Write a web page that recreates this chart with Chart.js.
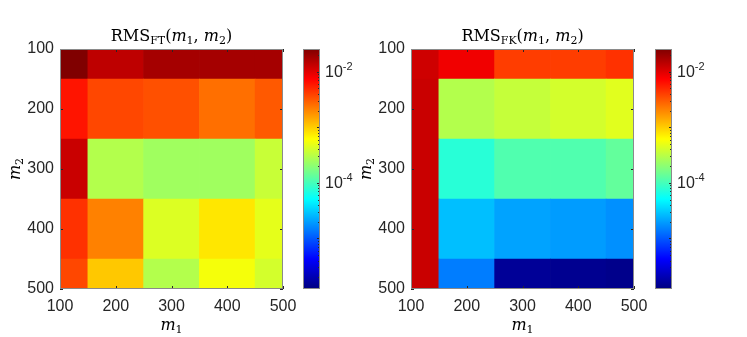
<!DOCTYPE html>
<html lang="en">
<head>
<meta charset="UTF-8">
<title>RMS heatmaps</title>
<script src="https://cdn.jsdelivr.net/npm/chart.js"></script>
<style>
  body { margin: 0; background: #fff; }
  .panel { position: absolute; top: 0; height: 337px; }
</style>
</head>
<body>
<div class="panel" style="left:0;width:300px"><canvas id="ftChart"></canvas></div>
<div class="panel" style="left:300px;width:60px"><canvas id="ftBar"></canvas></div>
<div class="panel" style="left:351px;width:300px"><canvas id="fkChart"></canvas></div>
<div class="panel" style="left:652px;width:60px"><canvas id="fkBar"></canvas></div>

<script>
// grid values
const m1 = [100, 200, 300, 400, 500];
const m2 = [100, 200, 300, 400, 500];
const axisTicks = [100, 200, 300, 400, 500];

// rows follow m2 (top to bottom), columns follow m1
const rmsFT = [
  [2.57e-2, 1.40e-2, 1.78e-2, 1.78e-2, 1.78e-2],
  [6.1e-3, 3.7e-3, 3.4e-3, 2.5e-3, 3.1e-3],
  [1.26e-2, 2.95e-4, 2.45e-4, 2.45e-4, 3.6e-4],
  [4.6e-3, 2.1e-3, 4.4e-4, 7.8e-4, 4.8e-4],
  [3.7e-3, 1.05e-3, 2.95e-4, 5.6e-4, 4.0e-4]
];
const rmsFK = [
  [1.2e-2, 8.5e-3, 4.1e-3, 4.1e-3, 4.6e-3],
  [1.26e-2, 2.95e-4, 3.5e-4, 4.0e-4, 4.6e-4],
  [1.26e-2, 7.6e-5, 1.12e-4, 1.12e-4, 1.35e-4],
  [1.26e-2, 2.75e-5, 2.1e-5, 1.95e-5, 1.74e-5],
  [1.26e-2, 1.45e-5, 1.55e-6, 1.45e-6, 1.38e-6]
];

// colour axis (log)
const colorLimits = [1.23e-6, 2.57e-2];
const colorbarTicks = [1e-4, 1e-2];

const sans = '"Liberation Sans", Arial, Helvetica, sans-serif';
const serif = '"DejaVu Serif", "Liberation Serif", serif';
const axisColor = '#262626';

function jet(t) {
  t = Math.min(1, Math.max(0, t));
  const c = v => Math.round(255 * Math.min(1, Math.max(0, v)));
  const r = Math.min(4 * t - 1.5, -4 * t + 4.5);
  const g = Math.min(4 * t - 0.5, -4 * t + 3.5);
  const b = Math.min(4 * t + 0.5, -4 * t + 2.5);
  return 'rgb(' + c(r) + ',' + c(g) + ',' + c(b) + ')';
}

function colorFor(v) {
  const lo = Math.log10(colorLimits[0]), hi = Math.log10(colorLimits[1]);
  return jet((Math.log10(v) - lo) / (hi - lo));
}

// draws a row of text pieces centred on x, baseline y
function drawRich(ctx, parts, x, y) {
  let w = 0;
  parts.forEach(p => { ctx.font = p.font; w += ctx.measureText(p.text).width; });
  let cx = x - w / 2;
  parts.forEach(p => {
    ctx.font = p.font;
    ctx.fillText(p.text, cx, y + (p.dy || 0));
    cx += ctx.measureText(p.text).width;
  });
}

const big = '16px ' + serif, small = '11px ' + serif, ital = 'italic 16px ' + serif;
function varParts(n) {
  return [{text: 'm', font: ital}, {text: n, font: small, dy: 3}];
}
function titleParts(sub) {
  return [{text: 'RMS', font: big}, {text: sub, font: small, dy: 3}, {text: '(', font: big}]
    .concat(varParts('1'), [{text: ', ', font: big}], varParts('2'), [{text: ')', font: big}]);
}

const framePlugin = {
  id: 'frame',
  afterDatasetsDraw(chart) {
    const {ctx, chartArea: a, scales} = chart;
    ctx.save();
    ctx.strokeStyle = axisColor;
    ctx.lineWidth = 1;
    ctx.beginPath();
    scales.x.ticks.forEach(t => {
      const px = Math.round(scales.x.getPixelForValue(t.value)) + 0.5;
      ctx.moveTo(px, a.bottom); ctx.lineTo(px, a.bottom - 3);
      ctx.moveTo(px, a.top); ctx.lineTo(px, a.top + 3);
    });
    scales.y.ticks.forEach(t => {
      const py = Math.round(scales.y.getPixelForValue(t.value)) + 0.5;
      ctx.moveTo(a.left, py); ctx.lineTo(a.left + 3, py);
      ctx.moveTo(a.right, py); ctx.lineTo(a.right - 3, py);
    });
    ctx.stroke();
    ctx.strokeStyle = '#8a8a8a';
    ctx.strokeRect(Math.round(a.left) + 0.5, Math.round(a.top) + 0.5,
      Math.round(a.right - a.left) - 1, Math.round(a.bottom - a.top) - 1);

    const t = chart.options.plugins.frame;
    ctx.fillStyle = '#000';
    ctx.textAlign = 'left';
    ctx.textBaseline = 'alphabetic';
    const cx = (a.left + a.right) / 2;
    drawRich(ctx, titleParts(t.sub), cx, 41);
    drawRich(ctx, varParts('1'), cx, 330);
    ctx.translate(20, (a.top + a.bottom) / 2);
    ctx.rotate(-Math.PI / 2);
    drawRich(ctx, varParts('2'), 0, 0);
    ctx.restore();
  }
};

function heatmap(id, values, sub) {
  const step = m1[1] - m1[0];
  const cells = [];
  m2.forEach((y, i) => m1.forEach((x, j) => {
    cells.push({x: x, y: [y - step / 2, y + step / 2], v: values[i][j]});
  }));
  return new Chart(document.getElementById(id), {
    type: 'bar',
    data: {
      datasets: [{
        data: cells,
        backgroundColor: c => c.raw ? colorFor(c.raw.v) : 'transparent',
        borderWidth: 0,
        categoryPercentage: 1,
        barPercentage: 1,
        grouped: false
      }]
    },
    options: {
      responsive: true,
      maintainAspectRatio: false,
      animation: false,
      layout: {padding: {top: 49, right: 17, left: 0, bottom: 0}},
      plugins: {legend: {display: false}, tooltip: {enabled: false}, frame: {sub: sub}},
      scales: {
        x: {
          type: 'linear', min: 100, max: 500, offset: false,
          afterBuildTicks: s => { s.ticks = axisTicks.map(v => ({value: v})); },
          afterFit: s => { s.height = 48; s.paddingLeft = 0; s.paddingRight = 0; },
          grid: {display: false, drawTicks: false}, border: {display: false},
          ticks: {color: axisColor, font: {family: sans, size: 16}, padding: 8, maxRotation: 0}
        },
        y: {
          type: 'linear', min: 100, max: 500, reverse: true,
          afterBuildTicks: s => { s.ticks = axisTicks.map(v => ({value: v})); },
          afterFit: s => { s.width = 60; },
          grid: {display: false, drawTicks: false}, border: {display: false},
          ticks: {color: axisColor, font: {family: sans, size: 16}, padding: 6}
        }
      }
    },
    plugins: [framePlugin]
  });
}

const barPlugin = {
  id: 'cbar',
  afterDatasetsDraw(chart) {
    const {ctx, chartArea: a, scales} = chart;
    const y = scales.y;
    ctx.save();
    ctx.strokeStyle = axisColor;
    ctx.lineWidth = 1;
    ctx.beginPath();
    const lo = Math.floor(Math.log10(colorLimits[0])), hi = Math.ceil(Math.log10(colorLimits[1]));
    for (let d = lo; d <= hi; d++) {
      for (let k = 1; k <= 9; k++) {
        const v = k * Math.pow(10, d);
        if (v < colorLimits[0] || v > colorLimits[1]) continue;
        const py = Math.round(y.getPixelForValue(v)) + 0.5;
        ctx.moveTo(a.right, py); ctx.lineTo(a.right - (k === 1 ? 3 : 2), py);
      }
    }
    ctx.stroke();
    ctx.strokeStyle = '#8a8a8a';
    ctx.strokeRect(Math.round(a.left) + 0.5, Math.round(a.top) + 0.5,
      Math.round(a.right - a.left) - 1, Math.round(a.bottom - a.top) - 1);
    ctx.fillStyle = axisColor;
    ctx.textAlign = 'left';
    ctx.textBaseline = 'middle';
    colorbarTicks.forEach(v => {
      const py = y.getPixelForValue(v);
      ctx.font = '16px ' + sans;
      ctx.fillText('10', a.right + 5, py + 1);
      const w = ctx.measureText('10').width;
      ctx.font = '11px ' + sans;
      ctx.fillText(String(Math.round(Math.log10(v))), a.right + 5 + w, py - 5);
    });
    ctx.restore();
  }
};

function colorbar(id) {
  return new Chart(document.getElementById(id), {
    type: 'bar',
    data: {
      labels: [''],
      datasets: [{
        data: [[colorLimits[0], colorLimits[1]]],
        backgroundColor: c => {
          const a = c.chart.chartArea;
          if (!a) return 'transparent';
          const g = c.chart.ctx.createLinearGradient(0, a.bottom, 0, a.top);
          for (let i = 0; i <= 64; i++) g.addColorStop(i / 64, jet(i / 64));
          return g;
        },
        borderWidth: 0,
        categoryPercentage: 1,
        barPercentage: 1
      }]
    },
    options: {
      responsive: true,
      maintainAspectRatio: false,
      animation: false,
      layout: {padding: {top: 49, left: 3, right: 0, bottom: 48}},
      plugins: {legend: {display: false}, tooltip: {enabled: false}},
      scales: {
        x: {display: false},
        y: {
          type: 'logarithmic', position: 'right',
          min: colorLimits[0], max: colorLimits[1],
          afterBuildTicks: s => { s.ticks = colorbarTicks.map(v => ({value: v})); },
          afterFit: s => { s.width = 40; },
          grid: {display: false}, border: {display: false},
          ticks: {display: false}
        }
      }
    },
    plugins: [barPlugin]
  });
}

heatmap('ftChart', rmsFT, 'FT');
colorbar('ftBar');
heatmap('fkChart', rmsFK, 'FK');
colorbar('fkBar');
</script>
</body>
</html>
